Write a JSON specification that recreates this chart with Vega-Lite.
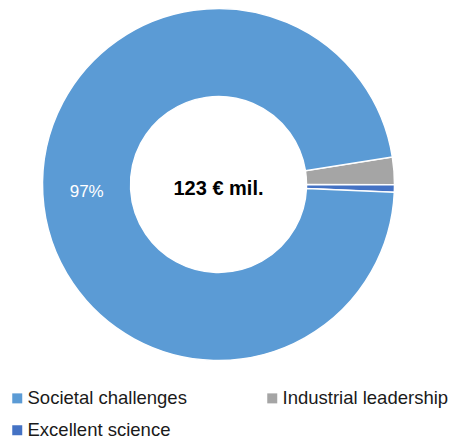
{
  "$schema": "https://vega.github.io/schema/vega-lite/v6.json",
  "width": 437,
  "height": 369,
  "padding": 0,
  "autosize": {"type": "pad"},
  "background": "white",
  "config": {"view": {"stroke": null}, "font": "Liberation Sans"},
  "layer": [
    {
      "data": {
        "values": [
          {"category": "Industrial leadership", "value": 3.1, "ord": 1, "label": ""},
          {"category": "Excellent science", "value": 0.85, "ord": 2, "label": ""},
          {"category": "Societal challenges", "value": 119.05, "ord": 3, "label": "97%"}
        ]
      },
      "layer": [
        {
          "mark": {"type": "arc", "innerRadius": 88, "outerRadius": 176, "stroke": "white", "strokeWidth": 1.5},
          "encoding": {
            "theta": {"field": "value", "type": "quantitative", "stack": true, "scale": {"range": [1.4137, 7.6969]}},
            "order": {"field": "ord", "type": "quantitative"},
            "color": {
              "field": "category",
              "type": "nominal",
              "scale": {
                "domain": ["Societal challenges", "Industrial leadership", "Excellent science"],
                "range": ["#5B9BD5", "#A5A5A5", "#4472C4"]
              },
              "legend": {
                "orient": "none",
                "legendX": 8,
                "legendY": 389,
                "direction": "horizontal",
                "columns": 2,
                "title": null,
                "symbolType": "square",
                "symbolSize": 100,
                "symbolStrokeWidth": 0,
                "labelFontSize": 18.5,
                "labelColor": "#1a1a1a",
                "labelOffset": 1,
                "labelLimit": 300,
                "columnPadding": 76,
                "rowPadding": 13,
                "padding": 0
              }
            }
          }
        },
        {
          "mark": {"type": "text", "radius": 132, "fontSize": 17, "color": "white"},
          "encoding": {
            "theta": {"field": "value", "type": "quantitative", "stack": true, "scale": {"range": [1.4137, 7.6969]}},
            "order": {"field": "ord", "type": "quantitative"},
            "text": {"field": "label", "type": "nominal"}
          }
        }
      ]
    },
    {
      "data": {"values": [{"t": "123 € mil."}]},
      "mark": {"type": "text", "fontSize": 20, "fontWeight": "bold", "color": "black", "dy": 4},
      "encoding": {"text": {"field": "t", "type": "nominal"}}
    }
  ]
}
